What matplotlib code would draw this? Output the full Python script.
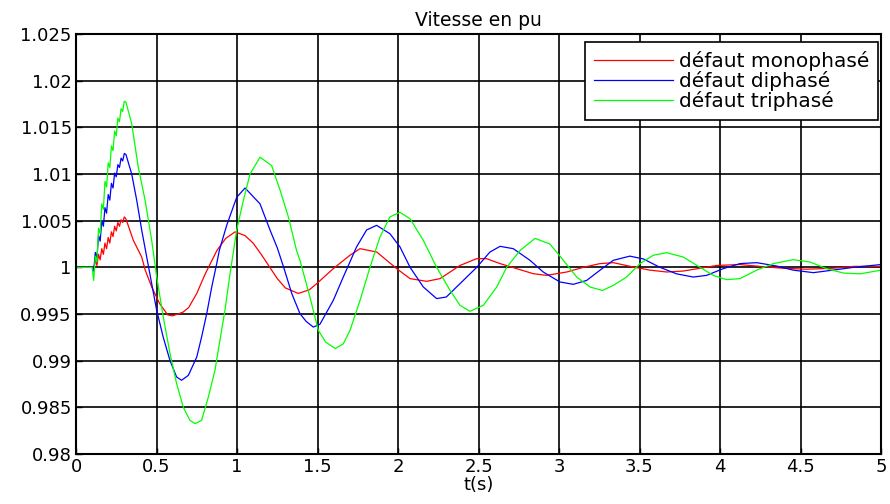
import matplotlib
matplotlib.use("Agg")
import matplotlib.pyplot as plt

# ---- data ----
t_mono = [0.0, 0.10, 0.11, 0.12, 0.13, 0.14, 0.15, 0.16, 0.17, 0.18, 0.19, 0.20,
          0.21, 0.22, 0.23, 0.24, 0.25, 0.26, 0.27, 0.28, 0.29, 0.30, 0.31,
          0.356, 0.408, 0.43, 0.47, 0.52, 0.57, 0.60, 0.665, 0.70, 0.75, 0.80,
          0.875, 0.93, 0.988, 1.05, 1.10, 1.15, 1.20, 1.25, 1.30, 1.38, 1.45,
          1.495, 1.598, 1.702, 1.764, 1.868, 1.992, 2.075, 2.178, 2.261, 2.385,
          2.489, 2.55, 2.634, 2.737, 2.84, 2.923, 3.048, 3.151, 3.255, 3.337,
          3.46, 3.565, 3.669, 3.77, 3.876, 3.98, 4.124, 4.248, 4.393, 4.538,
          4.70, 4.83, 5.0]
v_mono = [1.0, 1.0, 0.9998, 1.0008, 1.0002, 1.0014, 1.0008, 1.0020, 1.0014, 1.0026,
          1.0020, 1.0032, 1.0026, 1.0038, 1.0033, 1.0044, 1.0039, 1.0048, 1.0044,
          1.0051, 1.0048, 1.0054, 1.0052,
          1.0029, 1.0011, 0.9997, 0.9979, 0.9961, 0.9949, 0.9948, 0.9952, 0.9957,
          0.9972, 0.9992, 1.0018, 1.0031, 1.0038, 1.0034, 1.0026, 1.0014, 1.0001,
          0.9988, 0.9978, 0.9972, 0.9976, 0.99825, 0.99986, 1.0013, 1.0020,
          1.00164, 0.99986, 0.99879, 0.9985, 0.99879, 1.0002, 1.00093, 1.00093,
          1.0004, 0.99986, 0.99932, 0.99914, 0.9995, 1.0, 1.0004, 1.0005,
          1.00004, 0.9997, 0.9995, 0.9996, 0.9999, 1.0002, 1.0003, 1.0001,
          0.9999, 0.9998, 0.9999, 1.0001, 1.0001]

t_di = [0.0, 0.10, 0.11, 0.12, 0.13, 0.14, 0.15, 0.16, 0.17, 0.18, 0.19, 0.20,
        0.21, 0.22, 0.23, 0.24, 0.25, 0.26, 0.27, 0.28, 0.29, 0.30, 0.31,
        0.346, 0.377, 0.408, 0.449, 0.501, 0.542, 0.584, 0.625, 0.656, 0.698,
        0.75, 0.78, 0.812, 0.843, 0.874, 0.89, 0.936, 0.998, 1.05, 1.143,
        1.205, 1.25, 1.29, 1.34, 1.391, 1.43, 1.474, 1.515, 1.598, 1.66, 1.743,
        1.805, 1.867, 1.95, 2.012, 2.075, 2.157, 2.24, 2.30, 2.385, 2.489,
        2.571, 2.634, 2.716, 2.82, 2.902, 3.006, 3.089, 3.172, 3.255, 3.337,
        3.44, 3.524, 3.627, 3.731, 3.834, 3.917, 4.02, 4.124, 4.228, 4.352,
        4.455, 4.58, 4.70, 4.83, 5.0]
v_di = [1.0, 1.0, 0.9996, 1.0016, 1.0010, 1.0034, 1.0028, 1.0050, 1.0044, 1.0064,
        1.0058, 1.0078, 1.0072, 1.0090, 1.0085, 1.0101, 1.0097, 1.0110, 1.0107,
        1.0117, 1.0114, 1.0122, 1.0121,
        1.0100, 1.0072, 1.0040, 1.0002, 0.9954, 0.9925, 0.9900, 0.98825, 0.9879,
        0.98843, 0.99039, 0.99253, 0.99504, 0.99789, 1.0004, 1.0018, 1.0045,
        1.0075, 1.0085, 1.0068, 1.0040, 1.0021, 1.0, 0.9972, 0.99504, 0.9942,
        0.9936, 0.9939, 0.99646, 0.99896, 1.0022, 1.0040, 1.0045, 1.0036,
        1.0022, 1.0, 0.9979, 0.99665, 0.99682, 0.99825, 1.0, 1.00164, 1.00225,
        1.0020, 1.00075, 0.9995, 0.99843, 0.99818, 0.9986, 0.9997, 1.00075,
        1.0012, 1.0009, 1.0, 0.9993, 0.99896, 0.99914, 0.99986, 1.0004, 1.0005,
        1.00014, 0.9997, 0.99943, 0.9997, 1.0, 1.0003]

t_tri = [0.0, 0.10, 0.11, 0.12, 0.13, 0.14, 0.15, 0.16, 0.17, 0.18, 0.19, 0.20,
         0.21, 0.22, 0.23, 0.24, 0.25, 0.26, 0.27, 0.28, 0.29, 0.30, 0.31,
         0.346, 0.387, 0.429, 0.47, 0.501, 0.542, 0.584, 0.625, 0.666, 0.708,
         0.739, 0.78, 0.822, 0.863, 0.894, 0.925, 0.957, 0.998, 1.04, 1.081,
         1.143, 1.215, 1.267, 1.319, 1.37, 1.391, 1.453, 1.505, 1.55, 1.61,
         1.66, 1.702, 1.764, 1.826, 1.888, 1.95, 2.012, 2.075, 2.157, 2.24,
         2.323, 2.385, 2.447, 2.53, 2.613, 2.675, 2.758, 2.851, 2.944, 3.027,
         3.11, 3.193, 3.27, 3.337, 3.42, 3.503, 3.586, 3.669, 3.772, 3.876,
         3.958, 4.041, 4.124, 4.228, 4.331, 4.455, 4.559, 4.662, 4.766, 4.87, 5.0]
v_tri = [1.0, 1.0, 0.9986, 1.0012, 1.0006, 1.0042, 1.0036, 1.0068, 1.0062, 1.0092,
         1.0086, 1.0112, 1.0107, 1.0130, 1.0125, 1.0146, 1.0141, 1.0160, 1.0156,
         1.0170, 1.0167, 1.0178, 1.0177,
         1.0154, 1.0107, 1.0072, 1.0029, 0.9990, 0.99468, 0.99075, 0.98754,
         0.98503, 0.9836, 0.98325, 0.9836, 0.9861, 0.98896, 0.99218, 0.99539,
         0.99932, 1.0040, 1.0072, 1.0100, 1.0118, 1.0109, 1.0083, 1.0054,
         1.0018, 1.00075, 0.99682, 0.99325, 0.9920, 0.9913, 0.9918, 0.99325,
         0.99646, 1.0, 1.00325, 1.0054, 1.0059, 1.0052, 1.0029, 1.0, 0.99754,
         0.99593, 0.99529, 0.99593, 0.99789, 1.0, 1.0018, 1.0031, 1.0025,
         1.00075, 0.99896, 0.99789, 0.99752, 0.99807, 0.99896, 1.0004, 1.0013,
         1.00157, 1.0011, 1.0, 0.99914, 0.99868, 0.99879, 0.9997, 1.0004,
         1.00082, 1.00057, 0.99986, 0.99939, 0.9993, 0.9997]

labels = ["défaut monophasé", "défaut diphasé", "défaut triphasé"]
colors = ["#ff0000", "#0000ff", "#00ff00"]
x_ticks = [0, 0.5, 1, 1.5, 2, 2.5, 3, 3.5, 4, 4.5, 5]
x_ticklabels = ["0", "0.5", "1", "1.5", "2", "2.5", "3", "3.5", "4", "4.5", "5"]
y_ticks = [0.98, 0.985, 0.99, 0.995, 1.0, 1.005, 1.01, 1.015, 1.02, 1.025]
y_ticklabels = ["0.98", "0.985", "0.99", "0.995", "1", "1.005", "1.01", "1.015", "1.02", "1.025"]

plt.rcParams['font.family'] = ['DejaVu Sans']

fig = plt.figure(figsize=(8.9, 5.04), dpi=100)
ax = fig.add_axes([76/890, 50/504, 805/890, 420/504])

for t, v, lab, c in zip([t_mono, t_di, t_tri], [v_mono, v_di, v_tri], labels, colors):
    ax.plot(t, v, color=c, lw=0.9, label=lab)

ax.set_xlim(0, 5)
ax.set_ylim(0.98, 1.025)
ax.set_xticks(x_ticks)
ax.set_xticklabels(x_ticklabels)
ax.set_yticks(y_ticks)
ax.set_yticklabels(y_ticklabels)
ax.tick_params(direction='in', length=4, width=1, labelsize=13, pad=3)
ax.grid(True, color='black', linestyle='-', linewidth=1.2)
for s in ax.spines.values():
    s.set_linewidth(1.5)
    s.set_color('black')

ax.set_title("Vitesse en pu", fontsize=13.5, pad=6)
ax.set_xlabel("t(s)", fontsize=13, labelpad=0)

leg = ax.legend(loc='upper right', bbox_to_anchor=(878/890, 462/504),
                bbox_transform=fig.transFigure, borderaxespad=0,
                fontsize=14.5, handlelength=3.9,
                fancybox=False, edgecolor='black', framealpha=1,
                borderpad=0.45, labelspacing=0.0, handletextpad=0.3)
leg.get_frame().set_linewidth(1.2)

fig.savefig("out.png", dpi=100)
